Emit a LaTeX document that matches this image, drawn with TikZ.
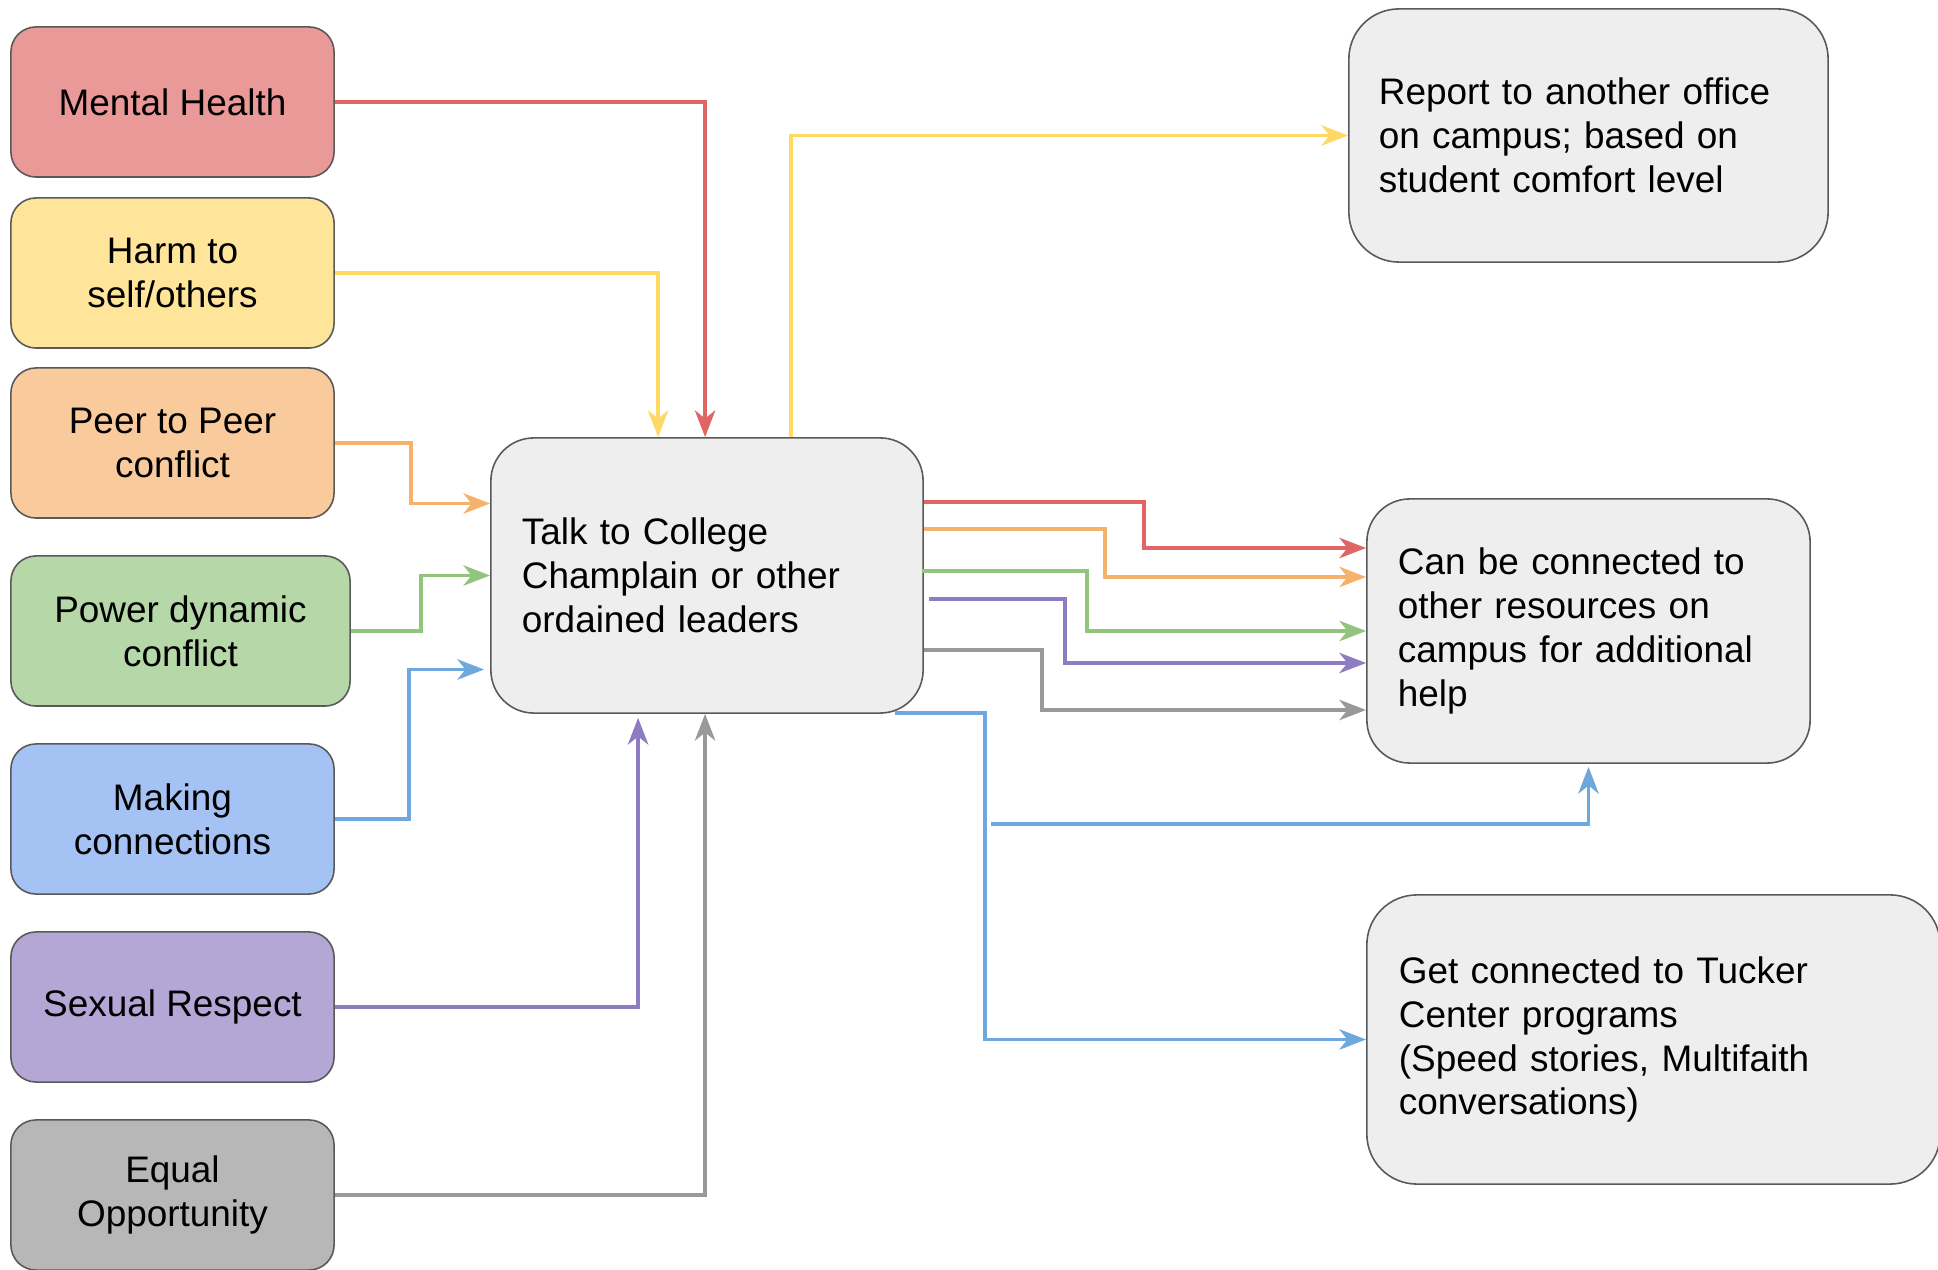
\documentclass[tikz,border=0pt]{standalone}
\usepackage{fontspec}
\setmainfont{Liberation Sans}
\usepackage{tikz}
\usetikzlibrary{calc,arrows.meta}

\definecolor{mhfill}{HTML}{EA9999}
\definecolor{harmfill}{HTML}{FFE599}
\definecolor{peerfill}{HTML}{F9CB9C}
\definecolor{powerfill}{HTML}{B6D7A8}
\definecolor{mcfill}{HTML}{A4C2F4}
\definecolor{srfill}{HTML}{B4A7D6}
\definecolor{eofill}{HTML}{B7B7B7}
\definecolor{outfill}{HTML}{EEEEEE}
\definecolor{boxline}{HTML}{595959}
\definecolor{redline}{HTML}{E06666}
\definecolor{yellowline}{HTML}{FFD966}
\definecolor{orangeline}{HTML}{F6B26B}
\definecolor{greenline}{HTML}{93C47D}
\definecolor{blueline}{HTML}{6FA8DC}
\definecolor{purpleline}{HTML}{8E7CC3}
\definecolor{grayline}{HTML}{999999}

\begin{document}
\begin{tikzpicture}[x=0.01cm, y=-0.01cm,
    box/.style={rectangle, rounded corners=0.25cm, draw=boxline, line width=0.45pt,
      minimum height=1.5cm, align=center, font=\fontsize{10.5}{12.5}\selectfont},
    bigbox/.style={rectangle, draw=boxline, fill=outfill, line width=0.45pt,
      align=left, inner xsep=0.31cm, font=\fontsize{10.5}{12.5}\selectfont},
    link/.style={line width=1.05pt, -{Stealth[length=7.6pt, width=5.8pt, inset=2.3pt]}}]

\useasboundingbox (0,0) rectangle (1938,1270);

% Nodes
\foreach \n/\x/\y/\w/\c/\t in {mh/172.5/102/3.23/mhfill/{Mental Health},
    harm/172.5/273/3.23/harmfill/{Harm to\\self/others},
    peer/172.5/443/3.23/peerfill/{Peer to Peer\\conflict},
    power/180.5/631/3.39/powerfill/{Power dynamic\\conflict},
    mc/172.5/819/3.23/mcfill/{Making\\connections},
    sr/172.5/1007/3.23/srfill/{Sexual Respect},
    eo/172.5/1195/3.23/eofill/{Equal\\Opportunity}} {
  \node[box, fill=\c, minimum width=\w cm] (\n) at (\x,\y) {\t};
}
\node[bigbox, rounded corners=0.43cm, text width=3.70cm, minimum height=2.75cm]
  (talk) at (707,575.5) {Talk to College\\Champlain or other\\ordained leaders};
\node[bigbox, rounded corners=0.5cm, inner xsep=0.30cm, text width=4.19cm, minimum height=2.53cm]
  (report) at (1588.5,135.5) {Report to another office\\on campus; based on\\student comfort level};
\node[bigbox, rounded corners=0.43cm, text width=3.81cm, minimum height=2.64cm]
  (can) at (1588.5,631) {Can be connected to\\other resources on\\campus for additional\\help};
\node[bigbox, rounded corners=0.5cm, inner xsep=0.32cm, text width=5.09cm, minimum height=2.89cm]
  (get) at (1653.5,1039.5) {Get connected to Tucker\\Center programs\\(Speed stories, Multifaith\\conversations)};
\coordinate (fork) at (991,824);

% Edges into the talk box
\foreach \src/\dx/\c in {mh/215/redline, harm/168/yellowline} {
  \draw[link, color=\c] (\src.east) -| ($(talk.north west)+(\dx,0)$);
}
\draw[link, color=orangeline] (peer.east) -- ++(76,0) |- ($(talk.west)+(0,-72)$);
\draw[link, color=greenline] (power.east) -- ++(70,0) |- (talk.west);
\draw[link, color=blueline] (mc.east) -- ++(74,0) |- ($(talk.west)+(-6,94)$);
\draw[link, color=purpleline] (sr.east) -| ($(talk.south west)+(148,4)$);
\draw[link, color=grayline] (eo.east) -| ($(talk.south west)+(215,0)$);

% Edges out of the talk box
\draw[link, color=yellowline] ($(talk.north west)+(301,0)$) |- (report.west);
\foreach \sx/\dy/\dx/\dz/\c in {0/65/220/-83/redline, 0/92/181/-54/orangeline,
    -2/134/165/0/greenline, 5/162/136/32/purpleline, 0/213/118/79/grayline} {
  \draw[link, color=\c] ($(talk.north east)+(\sx,\dy)$) -- ++(\dx,0) |- ($(can.west)+(0,\dz)$);
}
\draw[link, color=blueline] ($(talk.south east)+(-29,-1)$) -- ++(90,0) |- (get.west);
\draw[link, color=blueline] (fork) -| ($(can.south)+(0,3)$);
\end{tikzpicture}
\end{document}
